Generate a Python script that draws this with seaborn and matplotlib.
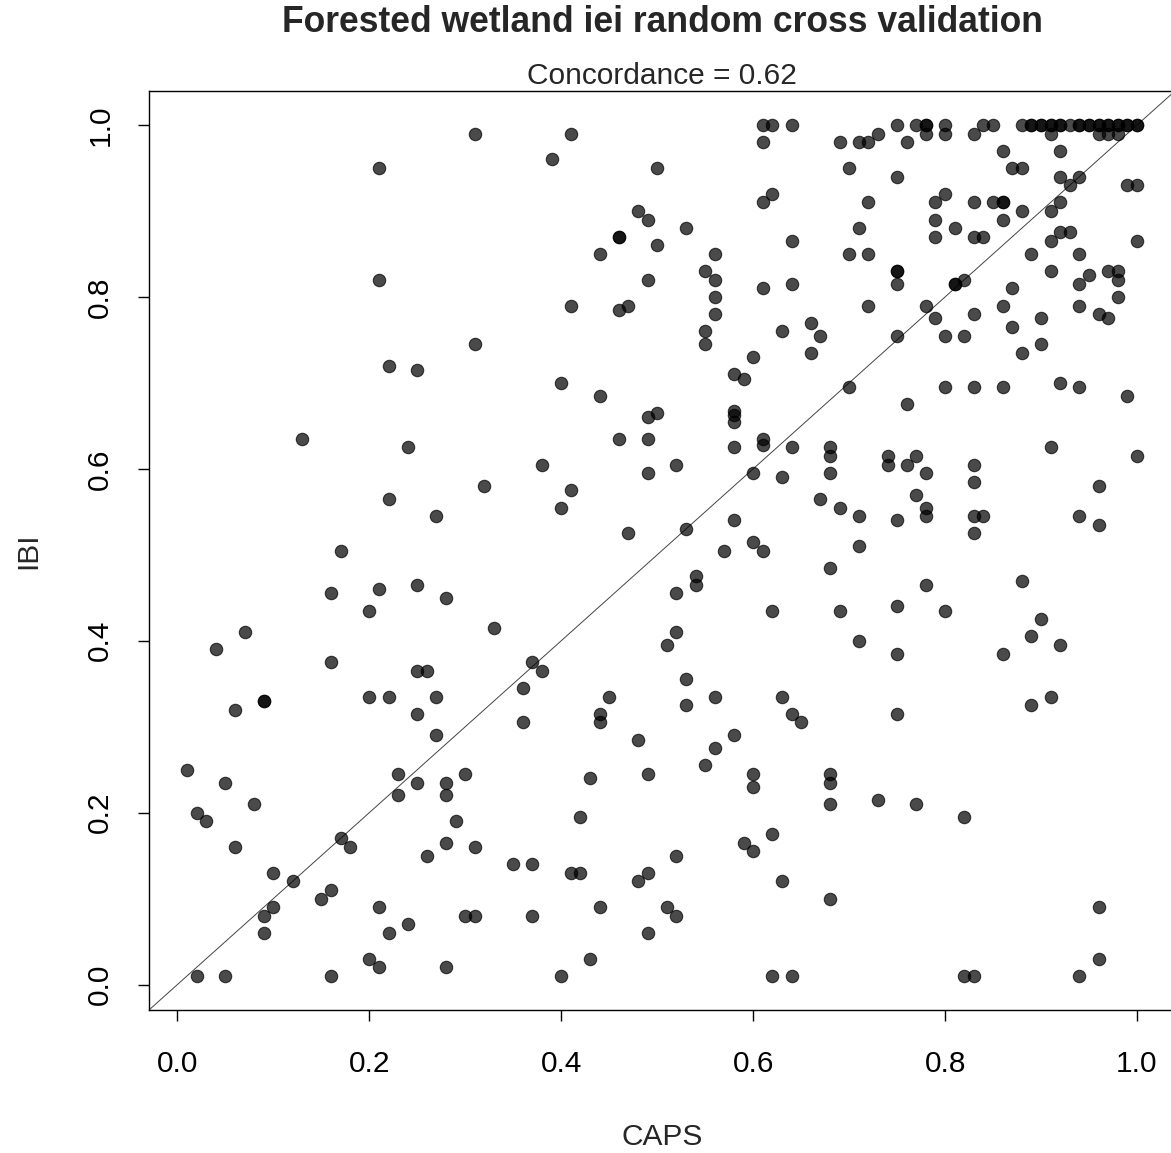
import matplotlib
matplotlib.use("Agg")
import matplotlib.pyplot as plt
import seaborn as sns
import pandas as pd

# ---- data ----
caps = (
    [0.01] + [0.02]*2 + [0.03] + [0.04] + [0.05]*2 + [0.06]*2 + [0.07] + [0.08] + [0.09]*4 +
    [0.10]*2 + [0.12] + [0.13] + [0.15] + [0.16]*4 + [0.17]*2 + [0.18] + [0.20]*3 + [0.21]*5 +
    [0.22]*4 + [0.23]*2 + [0.24]*2 + [0.25]*5 + [0.26]*2 + [0.27]*3 + [0.28]*5 + [0.29] +
    [0.30]*2 + [0.31]*4 + [0.32] + [0.33] + [0.35] + [0.36]*2 + [0.37]*3 + [0.38]*2 + [0.39] +
    [0.40]*3 + [0.41]*4 + [0.42]*2 + [0.43]*2 + [0.44]*5 + [0.45] + [0.46]*4 + [0.47]*2 +
    [0.48]*3 + [0.49]*8 + [0.50]*3 + [0.51]*2 + [0.52]*5 + [0.53]*4 + [0.54]*2 + [0.55]*4 +
    [0.56]*6 + [0.57] + [0.58]*7 + [0.59]*2 + [0.60]*6 + [0.61]*7 + [0.62]*5 + [0.63]*4 +
    [0.64]*6 + [0.65] + [0.66]*2 + [0.67]*2 + [0.68]*8 + [0.69]*3 + [0.70]*3 + [0.71]*5 +
    [0.72]*4 + [0.73]*2 + [0.74]*2 + [0.75]*10 + [0.76]*3 + [0.77]*4 + [0.78]*8 + [0.79]*4 +
    [0.80]*6 + [0.81]*3 + [0.82]*4 + [0.83]*10 + [0.84]*3 + [0.85]*2 + [0.86]*7 + [0.87]*3 +
    [0.88]*5 + [0.89]*5 + [0.90]*5 + [0.91]*8 + [0.92]*8 + [0.93]*3 + [0.94]*9 + [0.95]*3 +
    [0.96]*8 + [0.97]*5 + [0.98]*6 + [0.99]*4 + [1.00]*5
)

ibi = [
    0.25,
    0.20, 0.01,
    0.19,
    0.39,
    0.235, 0.01,
    0.32, 0.16,
    0.41,
    0.21,
    0.33, 0.33, 0.08, 0.06,
    0.13, 0.09,
    0.12,
    0.635,
    0.10,
    0.455, 0.375, 0.11, 0.01,
    0.505, 0.17,
    0.16,
    0.435, 0.335, 0.03,
    0.95, 0.82, 0.46, 0.09, 0.02,
    0.72, 0.565, 0.335, 0.06,
    0.245, 0.22,
    0.625, 0.07,
    0.715, 0.465, 0.365, 0.315, 0.235,
    0.365, 0.15,
    0.545, 0.335, 0.29,
    0.45, 0.235, 0.22, 0.165, 0.02,
    0.19,
    0.245, 0.08,
    0.99, 0.745, 0.16, 0.08,
    0.58,
    0.415,
    0.14,
    0.345, 0.305,
    0.375, 0.14, 0.08,
    0.605, 0.365,
    0.96,
    0.70, 0.555, 0.01,
    0.99, 0.79, 0.575, 0.13,
    0.195, 0.13,
    0.24, 0.03,
    0.85, 0.685, 0.315, 0.305, 0.09,
    0.335,
    0.87, 0.87, 0.785, 0.635,
    0.79, 0.525,
    0.90, 0.285, 0.12,
    0.89, 0.82, 0.66, 0.635, 0.595, 0.245, 0.13, 0.06,
    0.95, 0.86, 0.665,
    0.395, 0.09,
    0.605, 0.455, 0.41, 0.15, 0.08,
    0.88, 0.53, 0.355, 0.325,
    0.475, 0.465,
    0.83, 0.76, 0.745, 0.255,
    0.85, 0.82, 0.80, 0.78, 0.335, 0.275,
    0.505,
    0.71, 0.667, 0.663, 0.654, 0.625, 0.54, 0.29,
    0.705, 0.165,
    0.73, 0.595, 0.515, 0.245, 0.23, 0.155,
    1.00, 0.98, 0.91, 0.81, 0.635, 0.628, 0.505,
    1.00, 0.92, 0.435, 0.175, 0.01,
    0.76, 0.59, 0.335, 0.12,
    1.00, 0.865, 0.815, 0.625, 0.315, 0.01,
    0.305,
    0.77, 0.735,
    0.755, 0.565,
    0.625, 0.615, 0.595, 0.485, 0.245, 0.235, 0.21, 0.10,
    0.98, 0.555, 0.435,
    0.95, 0.85, 0.695,
    0.98, 0.88, 0.545, 0.51, 0.40,
    0.98, 0.91, 0.85, 0.79,
    0.99, 0.215,
    0.615, 0.605,
    1.00, 0.94, 0.83, 0.83, 0.815, 0.755, 0.54, 0.44, 0.385, 0.315,
    0.98, 0.675, 0.605,
    1.00, 0.615, 0.57, 0.21,
    1.00, 1.00, 0.99, 0.79, 0.595, 0.555, 0.545, 0.465,
    0.91, 0.89, 0.87, 0.775,
    1.00, 0.99, 0.92, 0.755, 0.695, 0.435,
    0.88, 0.815, 0.815,
    0.82, 0.755, 0.195, 0.01,
    0.99, 0.91, 0.87, 0.78, 0.695, 0.605, 0.585, 0.545, 0.525, 0.01,
    1.00, 0.87, 0.545,
    1.00, 0.91,
    0.97, 0.91, 0.91, 0.89, 0.79, 0.695, 0.385,
    0.95, 0.81, 0.765,
    1.00, 0.95, 0.90, 0.735, 0.47,
    1.00, 1.00, 0.85, 0.405, 0.325,
    1.00, 1.00, 0.775, 0.745, 0.425,
    1.00, 1.00, 0.99, 0.90, 0.865, 0.83, 0.625, 0.335,
    1.00, 1.00, 0.97, 0.94, 0.91, 0.875, 0.70, 0.395,
    1.00, 0.93, 0.875,
    1.00, 1.00, 0.94, 0.85, 0.815, 0.79, 0.695, 0.545, 0.01,
    1.00, 1.00, 0.825,
    1.00, 1.00, 0.99, 0.78, 0.58, 0.535, 0.09, 0.03,
    1.00, 1.00, 0.99, 0.83, 0.775,
    1.00, 1.00, 0.99, 0.83, 0.82, 0.80,
    1.00, 1.00, 0.93, 0.685,
    1.00, 1.00, 0.93, 0.865, 0.615,
]

assert len(caps) == len(ibi), (len(caps), len(ibi))

tick_values = [0.0, 0.2, 0.4, 0.6, 0.8, 1.0]
tick_labels = ["0.0", "0.2", "0.4", "0.6", "0.8", "1.0"]
title_text = "Forested wetland iei random cross validation"
subtitle_text = "Concordance = 0.62"

df = pd.DataFrame({"CAPS": caps, "IBI": ibi})

# ---- style ----
sns.set_style("white")
plt.rcParams["font.family"] = ["Liberation Sans", "DejaVu Sans"]

FS = 21.5
W, H = 1171, 1153
fig = plt.figure(figsize=(W / 100, H / 100), dpi=100)
ax_left, ax_right, ax_top, ax_bottom = 149, 1175, 91, 1010
ax = fig.add_axes([ax_left / W, 1 - ax_bottom / H, (ax_right - ax_left) / W, (ax_bottom - ax_top) / H])

sns.scatterplot(data=df, x="CAPS", y="IBI", ax=ax, color="black", alpha=0.71,
                s=80, edgecolor="black", linewidth=0.8, legend=False, zorder=3)
ax.axline((0, 0), (1, 1), color="#444444", linewidth=0.7, zorder=2)

ax.set_xlim(-0.0296, 1.0396)
ax.set_ylim(-0.0296, 1.0396)

ax.set_xticks(tick_values)
ax.set_xticklabels(tick_labels)
ax.set_yticks(tick_values)
ax.set_yticklabels(tick_labels, rotation=90, va="center")

for s in ax.spines.values():
    s.set_visible(True)
    s.set_color("black")
    s.set_linewidth(1.0)

ax.tick_params(axis="both", which="major", direction="out", length=8, width=1.0,
               color="black", labelsize=FS, labelcolor="black",
               bottom=True, left=True, top=False, right=False)
ax.tick_params(axis="x", pad=21)
ax.tick_params(axis="y", pad=17)

ax.set_xlabel("CAPS", fontsize=FS, va="center")
ax.set_ylabel("IBI", fontsize=FS, va="center")
ax.xaxis.set_label_coords(0.5, (ax_bottom - 1137) / (ax_bottom - ax_top))
ax.yaxis.set_label_coords((28 - ax_left) / (ax_right - ax_left), 0.5)

fig.text(662 / W, 1 - 23 / H, title_text, ha="center", va="center",
         fontsize=25.6, fontweight="bold")
fig.text(662 / W, 1 - 76 / H, subtitle_text, ha="center", va="center", fontsize=FS)

fig.savefig("out.png", dpi=100, facecolor="white")
